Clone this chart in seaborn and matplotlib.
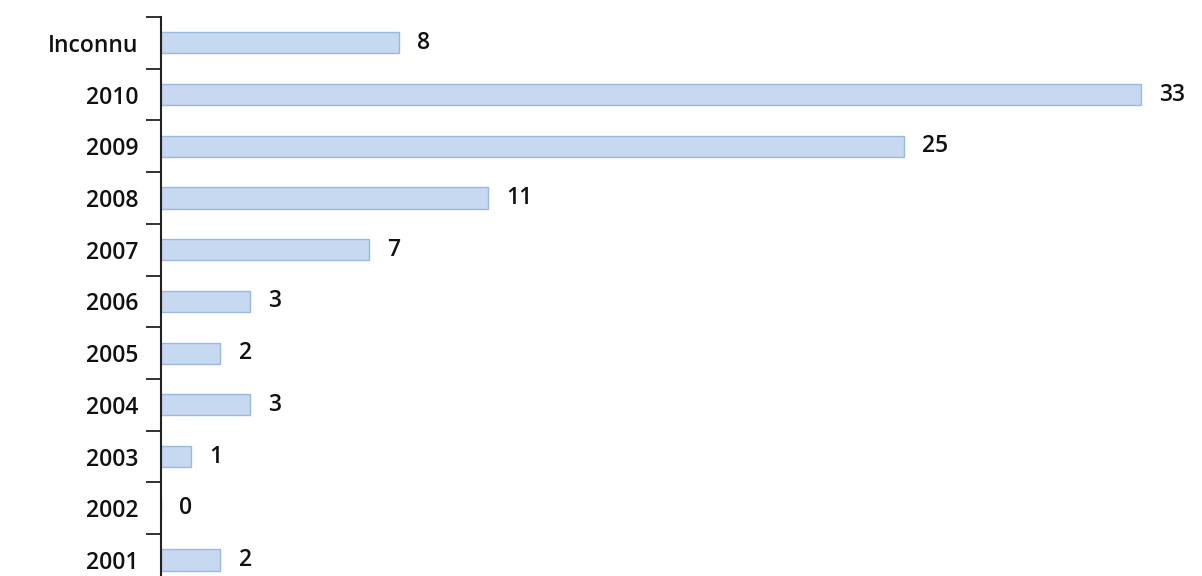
import matplotlib
matplotlib.use("Agg")
import matplotlib.pyplot as plt
import seaborn as sns
import pandas as pd
import numpy as np

categories = ["Inconnu", "2010", "2009", "2008", "2007", "2006", "2005", "2004", "2003", "2002", "2001"]
values = [8, 33, 25, 11, 7, 3, 2, 3, 1, 0, 2]

sns.set_style("white")
plt.rcParams['font.family'] = ['Open Sans', 'DejaVu Sans']

df = pd.DataFrame({"cat": categories, "val": values})

fig = plt.figure(figsize=(12.02, 5.76), dpi=100)
ax = fig.add_axes([0.134, -0.017, 0.865, 0.9875])

sns.barplot(data=df, x="val", y="cat", orient="h", ax=ax, color="#c6d9f1",
            edgecolor="#9bb9dc", linewidth=1.0, width=0.41, saturation=1)

ax.set_xlim(0, 35)
ax.set_ylim(len(categories) - 0.5, -0.5)

for c in ax.containers:
    ax.bar_label(c, labels=[str(v) for v in values], padding=13, fontsize=16.5,
                 color="#111111", fontweight="semibold")

ax.set_xlabel("")
ax.set_ylabel("")
ax.set_xticks([])
for s in ["top", "right", "bottom"]:
    ax.spines[s].set_visible(False)
ax.spines["left"].set_color("#222222")
ax.spines["left"].set_linewidth(1.5)

ax.set_yticks(np.arange(len(categories)))
ax.set_yticklabels(categories, fontsize=16.5, fontweight="semibold", color="#111111")
ax.set_yticks(np.arange(len(categories) + 1) - 0.5, minor=True)
ax.tick_params(axis="y", which="major", length=0, pad=16)
ax.tick_params(axis="y", which="minor", length=11, width=1.3, color="#222222", left=True)

fig.savefig("out.png", dpi=100)
